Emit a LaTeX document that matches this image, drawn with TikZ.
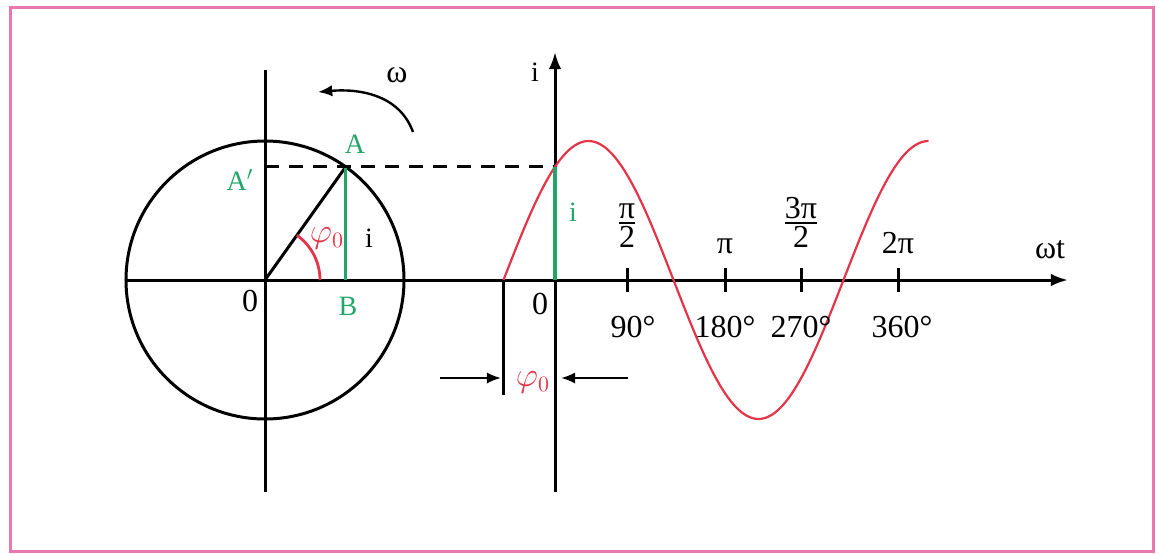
\documentclass[tikz,border=0pt]{standalone}
\usepackage{fontspec}
\usepackage{amsmath}
\setmainfont{Liberation Serif}
\usetikzlibrary{arrows.meta,positioning,calc}
\definecolor{wavered}{RGB}{228,52,72}
\definecolor{phasorgreen}{RGB}{35,165,105}
\definecolor{framepink}{RGB}{232,120,175}
\tikzset{
	axisline/.style={line width=1.5pt},
	axisarrow/.style={-{Latex[length=3mm,width=2.2mm]}, line width=1.5pt},
	wave/.style={wavered, line width=1.1pt},
	proj/.style={phasorgreen, line width=1.6pt},
	guide/.style={dash pattern=on 7pt off 5pt, line width=1.4pt},
	tickmark/.style={line width=1.5pt},
	marker/.style={-{Latex[length=2.5mm,width=2mm]}, line width=1.2pt},
	lbl/.style={inner sep=1pt, font=\fontsize{14}{16}\selectfont},
	numlbl/.style={inner sep=1pt, font=\fontsize{16}{18}\selectfont},
	glbl/.style={lbl, text=phasorgreen},
	rlbl/.style={numlbl, text=wavered}
}

\begin{document}
\begin{tikzpicture}[x=0.5pt, y=0.5pt]
	\useasboundingbox (-265,-273) rectangle (894,280);
	\draw[framepink, line width=1.5pt] (-254,-271) rectangle (888,273);
	% phasor circle
	\coordinate (O) at (0,0);
	\coordinate (A) at (54.5:139);
	\coordinate (Aprime) at (O |- A);
	\coordinate (B) at (A |- O);
	\coordinate (ctop) at (0,210);
	\coordinate (cbottom) at (0,-212);
	\coordinate (xstart) at (-140,0);
	\coordinate (xend) at (803,0);
	\coordinate (arcstart) at (55,0);
	\draw[axisline] (O) circle (139);
	\draw[axisline] (ctop) -- (cbottom);
	\draw[axisarrow] (xstart) -- (xend);
	\draw[axisline] (O) -- (A);
	\draw[wave, line width=1.4pt] (arcstart) arc[start angle=0, end angle=54.5, radius=55];
	\draw[proj] (A) -- (B);
	% rotation
	\coordinate (wstart) at (148,148);
	\coordinate (wend) at (53,188);
	\draw[marker] (wstart) to[out=110,in=5] (wend);
	\node[numlbl] (omega) at (132,205) {ω};
	\node[glbl] (Alabel) at (90,136) {A};
	\node[glbl] (Aplabel) at (-25,100) {A$'$};
	\node[glbl] (Blabel) at (83,-26) {B};
	\node[lbl] (ilabel) at (104,42) {i};
	\node[rlbl] (philabel) at (62,42) {$\varphi_0$};
	\node[numlbl] (Olabel) at (-15,-21) {0};
	% time axis
	\coordinate (iorigin) at (290,0);
	\coordinate (itop) at (290,228);
	\coordinate (ibottom) at (290,-212);
	\coordinate (Aproj) at (iorigin |- A);
	\coordinate (phasestart) at (238.5,0);
	\coordinate (phasebottom) at (238.5,-115);
	\draw[axisarrow] (ibottom) -- (itop);
	\draw[axisline] (phasestart) -- (phasebottom);
	\draw[guide] (Aprime) -- (Aproj);
	\draw[wave] plot[domain=0:450, samples=120, smooth] ({238.5+\x*0.94444}, {139*sin(\x)});
	\draw[proj] (Aproj) -- (iorigin);
	\node[lbl] (iaxislabel) at (270,208) {i};
	\node[glbl] (iproj) at (308,68) {i};
	\node[numlbl] (O2label) at (275,-24) {0};
	\foreach \px/\name in {362/q1, 460/q2, 536/q3, 633/q4}
		\draw[tickmark] (\px,12) coordinate (\name top) -- (\px,-12) coordinate (\name bot);
	\node[numlbl, above=9pt of q1top] (halfpi) {$\genfrac{}{}{1pt}{1}{\mbox{π}}{\mbox{2}}$};
	\node[numlbl, above=6pt of q2top] (pi) {π};
	\node[numlbl, above=9pt of q3top] (threehalfpi) {$\genfrac{}{}{1pt}{1}{\mbox{3π}}{\mbox{2}}$};
	\node[numlbl, above=6pt of q4top] (twopi) {2π};
	\node[numlbl, below=11pt of q1bot, xshift=3pt] (d90) {90°};
	\node[numlbl, below=11pt of q2bot] (d180) {180°};
	\node[numlbl, below=11pt of q3bot] (d270) {270°};
	\node[numlbl, below=11pt of q4bot, xshift=2pt] (d360) {360°};
	\node[numlbl] (wt) at (785,30) {ωt};
	% phase shift
	\coordinate (lArrowTail) at (175,-98);
	\coordinate (lArrowTip) at (236,-98);
	\coordinate (rArrowTail) at (363,-98);
	\coordinate (rArrowTip) at (296,-98);
	\draw[marker] (lArrowTail) -- (lArrowTip);
	\draw[marker] (rArrowTail) -- (rArrowTip);
	\node[rlbl] (phishift) at (268,-102) {$\varphi_0$};
\end{tikzpicture}
\end{document}
